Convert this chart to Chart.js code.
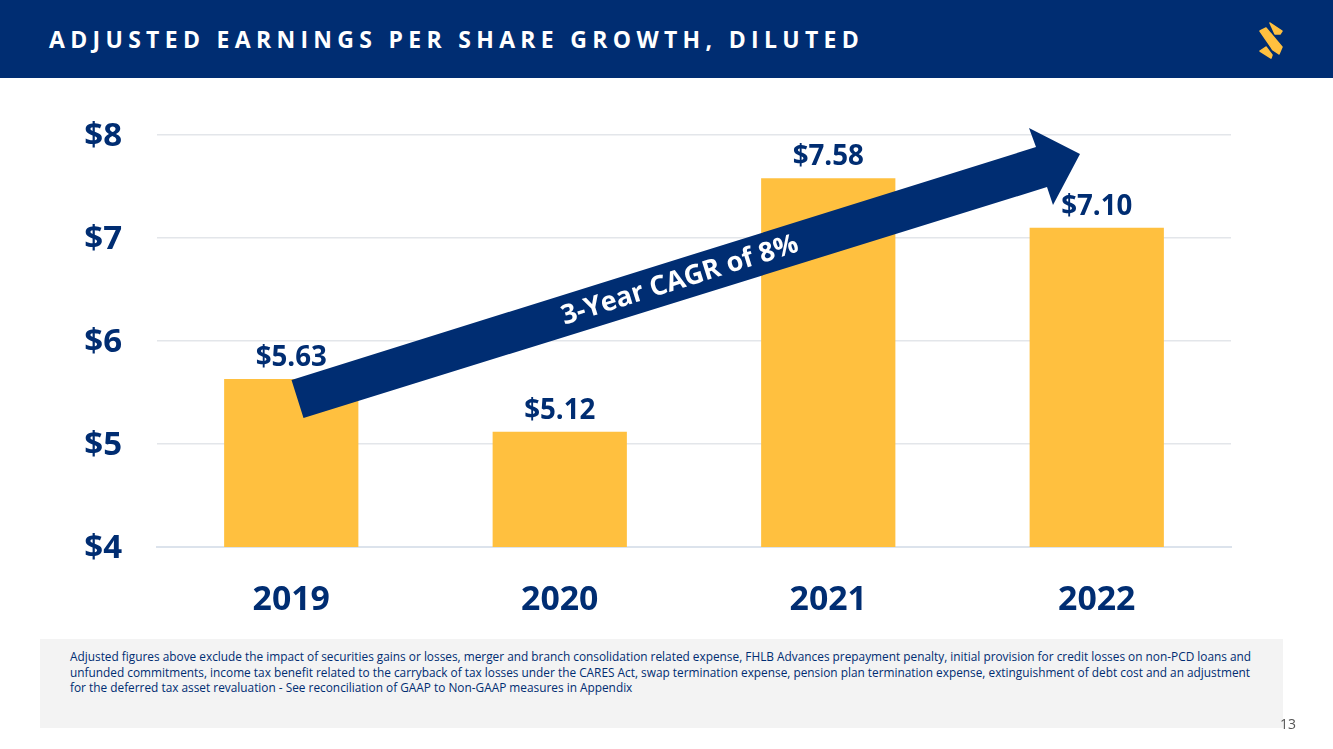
<!DOCTYPE html>
<html><head><meta charset="utf-8">
<script src="https://cdn.jsdelivr.net/npm/chart.js@4"></script>
<style>
html,body{margin:0;padding:0;background:#fff;overflow:hidden}
body{width:1333px;height:749px;position:relative;font-family:"Open Sans",sans-serif}
#hdr{position:absolute;left:0;top:0;width:1333px;height:78px;background:#002D72}
#ttl{position:absolute;left:49px;top:24px;color:#fff;font-weight:700;font-size:23px;letter-spacing:5.31px;line-height:31px;white-space:nowrap}
#wrap{position:absolute;left:0;top:0;width:1333px;height:749px}
#foot{position:absolute;left:40px;top:639px;width:1243px;height:89px;background:#F3F3F3}
#note{position:absolute;left:70px;top:649px;color:#002D72;font-size:11.85px;line-height:15.5px;white-space:nowrap}
#pg{position:absolute;left:1280px;top:715px;color:#555;font-size:14px;line-height:18px}
svg{position:absolute;left:0;top:0}
</style></head><body>
<div id="wrap"><canvas id="c" width="1333" height="749"></canvas></div>
<div id="hdr"></div>
<div id="ttl">ADJUSTED EARNINGS PER SHARE GROWTH, DILUTED</div>
<div id="foot"></div>
<div id="note">Adjusted figures above exclude the impact of securities gains or losses, merger and branch consolidation related expense, FHLB Advances prepayment penalty, initial provision for credit losses on non-PCD loans and<br>unfunded commitments, income tax benefit related to the carryback of tax losses under the CARES Act, swap termination expense, pension plan termination expense, extinguishment of debt cost and an adjustment<br>for the deferred tax asset revaluation - See reconciliation of GAAP to Non-GAAP measures in Appendix</div>
<div id="pg">13</div>
<svg width="1333" height="749" viewBox="0 0 1333 749">
<g fill="#FFC03F" stroke="#FFC03F" stroke-width="1.5" stroke-linejoin="round">
<polygon points="1270,23 1282,31 1280,34 1275,34"/>
<polygon points="1260,31 1266,28 1282,47 1279,54 1273,50"/>
<polygon points="1260,51 1266,47 1272,55 1271,58"/>
</g>
<polygon fill="#002D72" points="291.5,380 1036,147 1029,128 1080,154 1053,205 1047,187 303.5,418"/>
<text x="680" y="281" transform="rotate(-17.4 680 281)" text-anchor="middle" dominant-baseline="middle" fill="#fff" font-family="Open Sans" font-weight="700" font-size="27">3-Year CAGR of 8%</text>
</svg>
<script>
const categories=["2019","2020","2021","2022"];
const eps=[5.63,5.12,7.58,7.10];
const labels=["$5.63","$5.12","$7.58","$7.10"];
const navy="#002D72";
const valueLabels={id:"valueLabels",
  beforeDraw(ch){ch.scales.y.getLabelItems().forEach(it=>{it.textOffset=2;});},
  afterDatasetsDraw(ch){
  const m=ch.getDatasetMeta(0),x=ch.ctx;
  x.save();x.font='700 27.7px "Open Sans"';x.fillStyle=navy;x.textAlign="center";x.textBaseline="middle";
  m.data.forEach((b,i)=>x.fillText(labels[i],b.x,b.y-21));
  x.restore();
}};
new Chart(document.getElementById("c"),{
  type:"bar",
  data:{labels:categories,datasets:[{data:eps,backgroundColor:"#FFC03F",borderWidth:0,barPercentage:0.5,categoryPercentage:1}]},
  plugins:[valueLabels],
  options:{
    responsive:false,animation:false,
    layout:{padding:{top:135,right:102,left:0,bottom:0}},
    plugins:{legend:{display:false},tooltip:{enabled:false}},
    scales:{
      x:{grid:{display:false},border:{color:"#DCE3EC",width:2},
         ticks:{color:navy,padding:25,font:{family:"Open Sans",weight:"700",size:33.8}},
         afterFit(s){s.height=202}},
      y:{min:4,max:8,grid:{color:"#E3E6EA",lineWidth:1.5,drawTicks:false},border:{display:false},
         ticks:{stepSize:1,color:navy,padding:35,callback:v=>"$"+v,font:{family:"Open Sans",weight:"700",size:33}},
         afterFit(s){s.width=157}}
    }
  }
});
</script>
</body></html>
